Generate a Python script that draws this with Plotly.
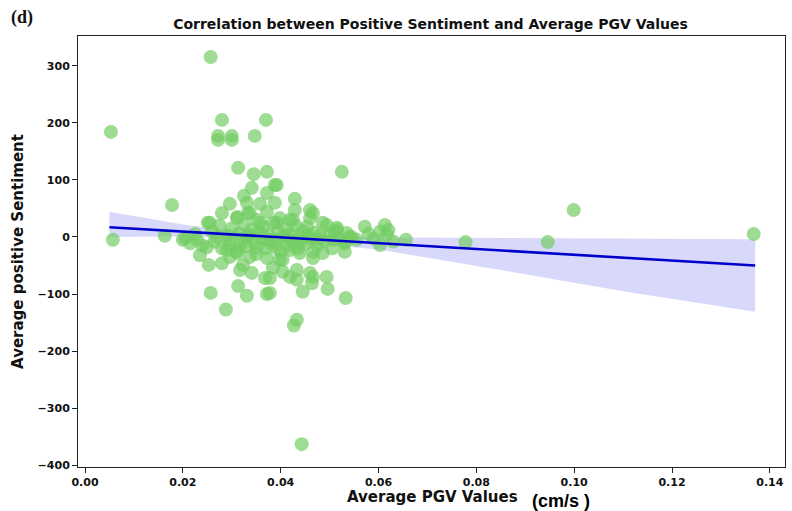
import plotly.graph_objects as go

# Average PGV (cm/s) and average positive sentiment for each event
pgv = [
    0.0053, 0.0057, 0.0163, 0.0178, 0.0257, 0.0280, 0.0272, 0.0272, 0.0300, 0.0300,
    0.0347, 0.0370, 0.0313, 0.0525, 0.0999, 0.0946, 0.0778, 0.0656, 0.1367, 0.0443,
    0.0427, 0.0288, 0.0257, 0.0331, 0.0372, 0.0533, 0.0445,
    0.0345, 0.0372, 0.0388, 0.0341, 0.0325, 0.0372, 0.0296, 0.0358, 0.0280, 0.0311,
    0.0333, 0.0372, 0.0251, 0.0351,
    0.0388, 0.0429, 0.0429, 0.0460, 0.0460, 0.0398, 0.0425, 0.0494, 0.0515, 0.0535,
    0.0572, 0.0613, 0.0603,
    0.0200, 0.0235, 0.0253, 0.0280, 0.0296, 0.0317, 0.0341, 0.0368, 0.0384, 0.0313,
    0.0398, 0.0404, 0.0433, 0.0433, 0.0378, 0.0464, 0.0466, 0.0494, 0.0496, 0.0486,
    0.0531, 0.0466, 0.0603, 0.0617,
    0.0215, 0.0460, 0.0419, 0.0378, 0.0323, 0.0433, 0.0392, 0.0331, 0.0466, 0.0486,
    0.0515, 0.0541, 0.0531, 0.0466, 0.0439, 0.0404, 0.0372, 0.0337, 0.0311, 0.0290,
    0.0249, 0.0229, 0.0255, 0.0311, 0.0337, 0.0358, 0.0392, 0.0419, 0.0454, 0.0413,
    0.0372, 0.0331, 0.0296, 0.0270, 0.0439, 0.0474, 0.0507, 0.0317, 0.0351, 0.0392,
    0.0419,
    0.0205, 0.0225, 0.0240, 0.0260, 0.0265, 0.0275, 0.0280, 0.0290, 0.0295, 0.0300,
    0.0310, 0.0315, 0.0320, 0.0325, 0.0330, 0.0335, 0.0340, 0.0345, 0.0350, 0.0355,
    0.0360, 0.0365, 0.0370, 0.0375, 0.0380, 0.0385, 0.0390, 0.0395, 0.0400, 0.0405,
    0.0410, 0.0415, 0.0420, 0.0425, 0.0430, 0.0435, 0.0440, 0.0445, 0.0450, 0.0455,
    0.0460, 0.0470, 0.0475, 0.0480, 0.0490, 0.0500, 0.0505, 0.0510, 0.0520, 0.0530,
    0.0545, 0.0555, 0.0580, 0.0590, 0.0620, 0.0630,
]
sentiment = [
    184, -5, 2, 56, 315, 205, 177, 170, 177, 170,
    177, 205, 121, 114, 47, -9, -9, -5, 5, -363,
    -155, -127, -98, -103, -100, -107, -96,
    110, 114, 91, 86, 72, 77, 58, 58, 42, 33,
    42, 44, 25, 30,
    60, 67, 47, 47, 33, 33, 30, 21, 16, 7,
    18, 21, 9,
    -5, -32, -49, -46, -35, -58, -63, -72, -54, -86,
    -40, -61, -58, -75, -98, -81, -70, -70, -91, -28,
    -26, -37, -14, 4,
    -11, -63, -70, -72, -49, -145, 91, 60, 42, 25,
    12, 0, -11, -26, -28, -40, -37, -35, -28, -23,
    -18, -5, 25, 35, 42, 25, 25, 30, 18, 0,
    -5, 0, -5, 0, -11, -5, -5, -18, -19, -19,
    -23,
    -2, 5, -15, 10, -8, 20, -20, 2, -12, 15,
    -25, 6, -5, 22, -16, 3, 12, -10, -30, 8,
    -2, 18, -20, 4, -12, 25, -6, 10, -25, 0,
    15, -15, 5, -8, 20, -20, 0, 10, -12, 3,
    -3, 8, -15, 2, -7, 5, -20, 9, -3, -10,
    0, -5, 5, -3, 12, -8,
]

# Least-squares fit and its 95% confidence band
fit_x = [0.005, 0.137]
fit_y = [17, -50]
band_x = [0.005, 0.013, 0.020, 0.030, 0.035, 0.045, 0.060, 0.085, 0.110, 0.137]
band_hi = [44, 32, 22, 11, 8, 3, -1, -2, -3, -4]
band_lo = [0, 1, 1, -2, -4, -10, -22, -58, -95, -131]

x_ticks = [0.00, 0.02, 0.04, 0.06, 0.08, 0.10, 0.12, 0.14]
y_ticks = [300, 200, 100, 0, -100, -200, -300, -400]

tick_font = dict(family="DejaVu Sans", size=11, color="#111111", weight="bold")

fig = go.Figure()

fig.add_trace(go.Scatter(
    x=band_x + band_x[::-1],
    y=band_hi + band_lo[::-1],
    fill="toself",
    fillcolor="rgba(50,50,235,0.19)",
    line=dict(width=0),
    mode="lines",
    hoverinfo="skip",
    showlegend=False,
))

fig.add_trace(go.Scatter(
    x=pgv, y=sentiment,
    mode="markers",
    marker=dict(size=14, color="rgba(115,205,100,0.7)", line=dict(width=0)),
    showlegend=False,
))

fig.add_trace(go.Scatter(
    x=fit_x, y=fit_y,
    mode="lines",
    line=dict(color="#0000cc", width=2.6),
    showlegend=False,
))

axis_common = dict(
    showgrid=False, zeroline=False,
    showline=True, linecolor="#222222", linewidth=1, mirror=True,
    ticks="outside", ticklen=5, tickcolor="#222222", tickwidth=1,
    tickfont=tick_font,
)

fig.update_xaxes(
    range=[-0.00143, 0.1431],
    tickvals=x_ticks,
    ticktext=[f"{v:.2f}" for v in x_ticks],
    **axis_common,
)
fig.update_yaxes(
    range=[-403, 352],
    tickvals=y_ticks,
    ticktext=[f"{v}".replace("-", "\u2212") for v in y_ticks],
    title=dict(text="Average positive Sentiment",
               font=dict(family="DejaVu Sans", size=15, color="#111111", weight="bold"),
               standoff=10),
    **axis_common,
)

fig.update_layout(
    width=792, height=511,
    margin=dict(l=78, r=7, t=36, b=44),
    paper_bgcolor="white", plot_bgcolor="white",
    title=dict(
        text="Correlation between Positive Sentiment and Average PGV Values",
        font=dict(family="DejaVu Sans", size=14, color="#111111", weight="bold"),
        x=0.5435, xanchor="center", y=0.953, yanchor="middle",
    ),
    annotations=[
        dict(text="(d)", xref="paper", yref="paper", x=-0.079, y=1.044,
             xanchor="center", yanchor="middle", showarrow=False,
             font=dict(family="Liberation Serif", size=18, color="#111111", weight="bold")),
        dict(text="Average PGV Values", xref="paper", yref="paper", x=0.625, y=-0.045,
             xanchor="right", yanchor="top", showarrow=False,
             font=dict(family="DejaVu Sans", size=15, color="#111111", weight="bold")),
        dict(text="(cm/s )", xref="paper", yref="paper", x=0.639, y=-0.05,
             xanchor="left", yanchor="top", showarrow=False,
             font=dict(family="Liberation Sans", size=18, color="#000000", weight="bold")),
    ],
)

fig.write_html("out.html")
